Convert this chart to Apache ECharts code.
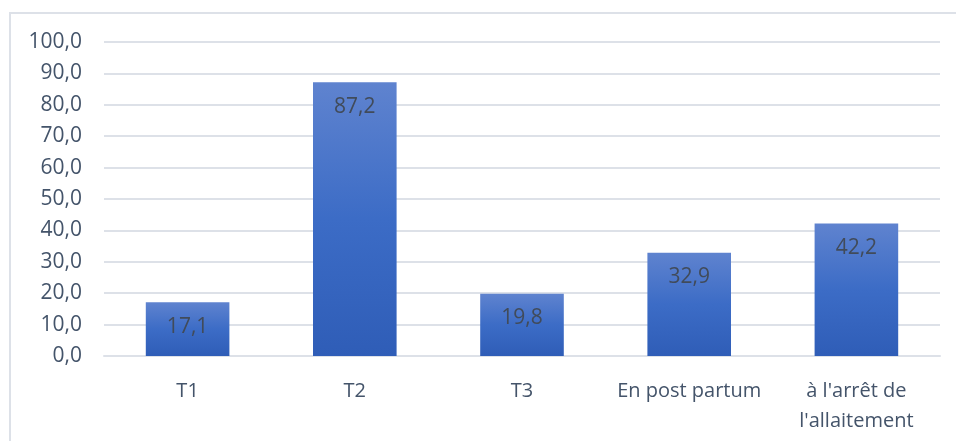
<!DOCTYPE html>
<html>
<head>
<meta charset="utf-8">
<script src="https://cdn.jsdelivr.net/npm/echarts@6/dist/echarts.min.js"></script>
<style>
  html, body { margin: 0; padding: 0; background: #fff; }
  #chart { width: 956px; height: 441px; }
</style>
</head>
<body>
<div id="chart"></div>
<script>
  var categories = ['T1', 'T2', 'T3', 'En post partum', "à l'arrêt de\nl'allaitement"];
  var values = [17.1, 87.2, 19.8, 32.9, 42.2];

  var chart = echarts.init(document.getElementById('chart'));

  var fmt = function (v) { return v.toFixed(1).replace('.', ','); };

  var option = {
    animation: false,
    textStyle: { fontFamily: 'Open Sans' },
    graphic: [{
      type: 'rect',
      shape: { x: 10, y: 13, width: 960, height: 440 },
      style: { fill: 'none', stroke: '#dde1e8', lineWidth: 2 },
      silent: true
    }],
    grid: { left: 104, right: 16, top: 42, bottom: 85 },
    xAxis: {
      type: 'category',
      data: categories,
      axisTick: { show: false },
      axisLine: { lineStyle: { color: '#dde1e8', width: 2 } },
      axisLabel: { interval: 0, color: '#44546a', fontSize: 20, margin: 20, lineHeight: 30 }
    },
    yAxis: {
      type: 'value',
      min: 0,
      max: 100,
      interval: 10,
      axisLabel: {
        color: '#44546a', fontSize: 21, margin: 22,
        formatter: fmt
      },
      splitLine: { lineStyle: { color: '#dde1e8', width: 2 } }
    },
    series: [{
      type: 'bar',
      data: values,
      barWidth: '50%',
      itemStyle: {
        color: new echarts.graphic.LinearGradient(0, 0, 0, 1, [
          { offset: 0, color: '#5f83cf' },
          { offset: 0.5, color: '#3c6cc6' },
          { offset: 1, color: '#2f5db7' }
        ])
      },
      label: {
        show: true,
        position: 'insideTop',
        distance: 14,
        color: '#414b5a',
        fontSize: 21,
        formatter: function (p) { return fmt(p.value); }
      }
    }]
  };

  chart.setOption(option);
</script>
</body>
</html>
